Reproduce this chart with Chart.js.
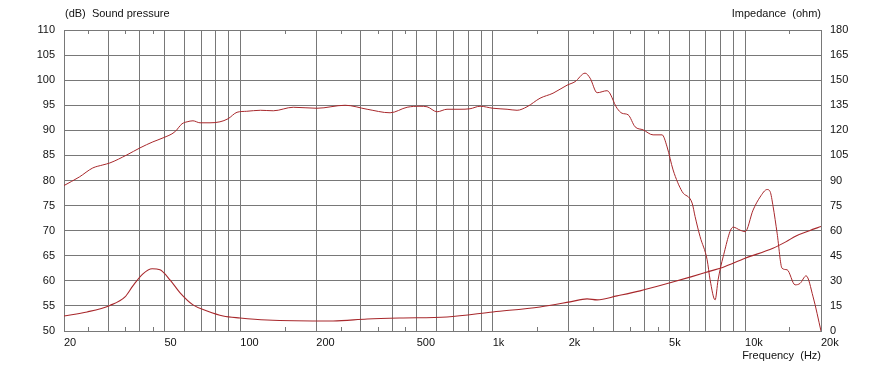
<!DOCTYPE html>
<html>
<head>
<meta charset="utf-8">
<script src="https://cdn.jsdelivr.net/npm/chart.js@4/dist/chart.umd.min.js"></script>
<style>
html,body{margin:0;padding:0;background:#fff;}
#wrap{width:886px;height:367px;position:relative;}
</style>
</head>
<body>
<div id="wrap"><canvas id="c"></canvas></div>
<script>
// Sound pressure (dB), left axis
const splFreq = [20,23,26,28.5,30.4,35.5,40,45,49.4,55,58.7,61.5,64.9,69.2,75.8,83,89.3,97,106,120,135,162,201,260,318,392,458,515,549,602,659,742,813,891,1003,1140,1249,1368,1540,1734,1971,2120,2323,2432,2593,2840,3110,3256,3440,3667,3944,4320,4690,4910,5187,5630,6170,6340,6635,7075,7270,7610,7820,8190,8970,9560,10010,10760,11470,12230,12570,12920,13400,14020,14680,15790,16530,17460,18610,20000];
const splDb = [79.0,80.7,82.5,83.1,83.5,85.1,86.5,87.7,88.5,89.7,91.3,91.7,91.9,91.5,91.5,91.7,92.3,93.6,93.8,94.0,93.9,94.6,94.4,95.0,94.2,93.5,94.6,94.8,94.7,93.7,94.2,94.2,94.3,94.8,94.4,94.2,94.0,94.7,96.4,97.4,99.0,99.7,101.4,100.4,97.5,97.9,94.4,93.4,93.1,90.7,90.1,89.1,89.1,86.7,82.1,77.8,75.5,72.8,68.8,64.2,60.2,56.2,60.2,64.8,70.7,70.1,69.8,74.1,76.7,78.2,77.8,74.8,69.5,62.5,62.2,59.2,59.5,61.0,56.8,50.0];
// Impedance (ohm), right axis
const impFreq = [20,24.7,30.4,34.9,37.5,41.1,44.7,48,52.6,57.7,64.9,73.8,85.4,99.7,127.5,233,318,429,659,1003,1540,2026,2366,2593,3110,3838,5046,6150,7270,8150,10000,12900,14500,16000,18000,20000];
const impOhm = [9.0,11.4,15.3,20.4,27.0,34.2,37.2,36.6,30.6,22.8,15.6,12.0,9.0,7.8,6.6,6.0,7.2,7.8,8.4,11.4,14.4,17.4,19.2,18.6,21.0,24.0,28.8,32.5,35.8,38.0,43.5,49.5,53.3,57.0,60.0,62.5];
// Axis ticks
const xGrid = [20,30,40,50,60,70,80,90,100,200,300,400,500,600,700,800,900,1000,2000,3000,4000,5000,6000,7000,8000,9000,10000,20000];
const xLabels = {20:'20',50:'50',100:'100',200:'200',500:'500',1000:'1k',2000:'2k',5000:'5k',10000:'10k',20000:'20k'};
const xMinor = [25,35,45,150,250,350,450,1500,2500,3500,4500,15000];

const GRID = '#787878';
const LINE = '#a8282c';
const FONT = {family:'"Liberation Sans", Arial, sans-serif', size:11};

const extras = {
  id:'extras',
  afterDraw(chart){
    const ctx = chart.ctx, a = chart.chartArea, xs = chart.scales.x;
    ctx.save();
    ctx.strokeStyle = GRID; ctx.lineWidth = 1;
    xMinor.forEach(f=>{
      const px = Math.round(xs.getPixelForValue(f))+0.5;
      ctx.beginPath();
      ctx.moveTo(px,a.top); ctx.lineTo(px,a.top+4);
      ctx.moveTo(px,a.bottom); ctx.lineTo(px,a.bottom-4);
      ctx.stroke();
    });
    ctx.fillStyle = '#111';
    ctx.font = '11px "Liberation Sans", Arial, sans-serif';
    ctx.textBaseline = 'middle';
    ctx.textAlign = 'left';
    ctx.fillText('(dB)  Sound pressure', a.left+1, 14);
    ctx.textAlign = 'right';
    ctx.fillText('Impedance  (ohm)', a.right, 14);
    ctx.fillText('Frequency  (Hz)', a.right, 356);
    ctx.restore();
  }
};

new Chart(document.getElementById('c'), {
  type:'line',
  data:{
    datasets:[
      {label:'Sound pressure', data: splFreq.map((f,i)=>({x:f,y:splDb[i]})), yAxisID:'y',
       borderColor:LINE, borderWidth:1, pointRadius:0, cubicInterpolationMode:'monotone', fill:false},
      {label:'Impedance', data: impFreq.map((f,i)=>({x:f,y:impOhm[i]})), yAxisID:'y2',
       borderColor:LINE, borderWidth:1.1, pointRadius:0, cubicInterpolationMode:'monotone', fill:false}
    ]
  },
  options:{
    responsive:true, maintainAspectRatio:false, animation:false,
    layout:{padding:{top:30,left:0,right:0,bottom:0}},
    plugins:{legend:{display:false}, tooltip:{enabled:false}},
    scales:{
      x:{
        type:'logarithmic', min:20, max:20000, position:'bottom',
        afterBuildTicks(s){ s.ticks = xGrid.map(v=>({value:v})); },
        afterFit(s){ s.height = 36; },
        grid:{color:GRID, drawTicks:false, lineWidth:1},
        border:{color:GRID},
        ticks:{color:'#111', font:FONT, padding:5, align:'start', maxRotation:0, autoSkip:false,
          callback:(v)=> xLabels[v] || ''}
      },
      y:{
        type:'linear', min:50, max:110, position:'left',
        afterFit(s){ s.width = 64; },
        grid:{color:GRID, drawTicks:false},
        border:{color:GRID},
        ticks:{stepSize:5, color:'#111', font:FONT, padding:9}
      },
      y2:{
        type:'linear', min:0, max:180, position:'right',
        afterFit(s){ s.width = 65; },
        grid:{display:false, drawTicks:false},
        border:{color:GRID},
        ticks:{stepSize:15, color:'#111', font:FONT, padding:9}
      }
    }
  },
  plugins:[extras]
});
</script>
</body>
</html>
